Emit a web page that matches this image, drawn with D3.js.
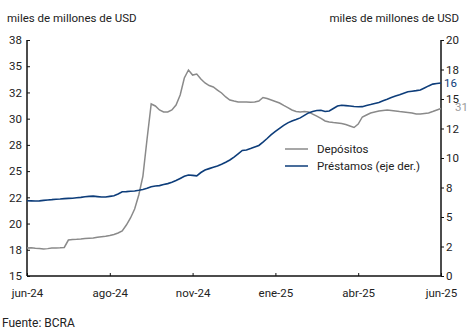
<!DOCTYPE html>
<html><head><meta charset="utf-8">
<script src="https://cdn.jsdelivr.net/npm/d3@7/dist/d3.min.js"></script>
<style>body{margin:0;background:#fff}svg{display:block;font-family:Roboto,"Noto Sans",sans-serif}</style>
</head><body><svg id="c" width="470" height="334"></svg>
<script>
const xTickIdx = [0,20,40,60,80,100];
const xTickLabels = ["jun-24","ago-24","nov-24","ene-25","abr-25","jun-25"];
const leftTicks = [15,17.5,20,22.5,25,27.5,30,32.5,35,37.5];
const leftTickLabels = ["15","18","20","22","25","28","30","32","35","38"];
const rightTicks = [0,2.5,5,7.5,10,12.5,15,17.5,20];
const rightTickLabels = ["0","2","5","8","10","12","15","18","20"];
const depositos = [17.67,17.7,17.64,17.62,17.57,17.61,17.67,17.67,17.69,17.72,
18.43,18.48,18.5,18.53,18.57,18.6,18.62,18.69,18.74,18.79,
18.86,18.96,19.1,19.29,19.86,20.53,21.39,22.72,24.53,28.06,
31.4,31.21,30.83,30.64,30.64,30.83,31.3,32.26,33.88,34.64,
34.16,34.26,33.78,33.4,33.16,33.02,32.73,32.45,32.07,31.78,
31.68,31.59,31.59,31.59,31.56,31.59,31.68,32.02,31.92,31.78,
31.64,31.49,31.26,31.06,30.83,30.68,30.64,30.68,30.64,30.44,
30.25,30.02,29.78,29.68,29.63,29.59,29.54,29.44,29.3,29.16,
29.49,30.16,30.35,30.54,30.64,30.73,30.78,30.83,30.78,30.73,
30.68,30.64,30.59,30.54,30.44,30.44,30.49,30.54,30.68,30.83,30.97];
const prestamos = [6.38,6.37,6.36,6.37,6.41,6.44,6.47,6.51,6.53,6.56,
6.58,6.59,6.63,6.66,6.71,6.75,6.77,6.73,6.69,6.69,
6.75,6.8,6.95,7.14,7.15,7.18,7.2,7.26,7.33,7.43,
7.57,7.63,7.66,7.75,7.83,7.94,8.09,8.27,8.45,8.56,
8.53,8.49,8.77,8.98,9.1,9.22,9.33,9.47,9.64,9.83,
10.08,10.36,10.64,10.68,10.8,10.93,11.06,11.34,11.65,11.98,
12.25,12.51,12.76,12.98,13.13,13.26,13.4,13.61,13.82,13.94,
14.02,14.04,13.94,13.98,14.19,14.41,14.47,14.44,14.41,14.37,
14.34,14.35,14.45,14.53,14.62,14.71,14.85,14.98,15.12,15.25,
15.36,15.49,15.61,15.66,15.71,15.77,15.94,16.11,16.26,16.31,16.36];
const seriesNames = ["Depósitos","Préstamos (eje der.)"];
const colors = {dep:"#8a8a8a", pre:"#0d3d7a"};

const svg = d3.select("#c");
const L = 27, R = 441, T = 40, B = 276;
const x = d3.scaleLinear().domain([0, depositos.length-1]).range([L, R]);
const yL = d3.scaleLinear().domain([15, 37.5]).range([B, T]);
const yR = d3.scaleLinear().domain([0, 20]).range([B, T]);
const fs = "11.5px";

// titles
svg.append("text").attr("x",7).attr("y",22).attr("font-size",fs).attr("fill","#222").text("miles de millones de USD");
svg.append("text").attr("x",459).attr("y",22).attr("text-anchor","end").attr("font-size",fs).attr("fill","#222").text("miles de millones de USD");

// axes
const axL = svg.append("g").attr("transform",`translate(${L},0)`)
  .call(d3.axisRight(yL).tickValues(leftTicks).tickSize(3).tickFormat((d,i)=>leftTickLabels[i]));
axL.selectAll("text").attr("x",-5).attr("text-anchor","end");
const axR = svg.append("g").attr("transform",`translate(${R},0)`)
  .call(d3.axisRight(yR).tickValues(rightTicks).tickSize(3).tickFormat((d,i)=>rightTickLabels[i]));
axR.selectAll("text").attr("x",5);
const axB = svg.append("g").attr("transform",`translate(0,${B})`)
  .call(d3.axisTop(x).tickValues(xTickIdx).tickSize(3).tickFormat((d,i)=>xTickLabels[i]));
axB.selectAll("text").attr("y",13).attr("dy","0.71em");
[axL,axR,axB].forEach(a=>{
  a.select(".domain").attr("stroke","#111").attr("stroke-width",1.5);
  a.selectAll(".tick line").attr("stroke","#111");
  a.selectAll("text").attr("font-size",fs).attr("fill","#222").attr("font-family","Roboto,sans-serif");
});
axL.select(".domain").attr("d",`M0,${T}V${B}`);
axR.select(".domain").attr("d",`M0,${T}V${B}`);
axB.select(".domain").attr("d",`M${L},0H${R}`);

// lines
svg.append("path").datum(depositos).attr("fill","none").attr("stroke",colors.dep).attr("stroke-width",1.5)
  .attr("d",d3.line().x((d,i)=>x(i)).y(d=>yL(d)));
svg.append("path").datum(prestamos).attr("fill","none").attr("stroke",colors.pre).attr("stroke-width",1.6)
  .attr("d",d3.line().x((d,i)=>x(i)).y(d=>yR(d)));

// end labels
const n = depositos.length-1;
svg.append("text").attr("x",R+3).attr("y",yR(prestamos[n])).attr("dy","0.35em").attr("font-size",fs).attr("fill",colors.pre).text(Math.round(prestamos[n]));
svg.append("text").attr("x",R+14).attr("y",yL(depositos[n])-2).attr("dy","0.35em").attr("font-size",fs).attr("fill","#9a9a9a").text(Math.round(depositos[n]));

// legend
const lg = svg.append("g").attr("transform","translate(285,149)");
[["dep",0],["pre",17]].forEach(([k,dy],i)=>{
  lg.append("line").attr("x1",0).attr("x2",23).attr("y1",dy).attr("y2",dy).attr("stroke",colors[k]).attr("stroke-width",1.5);
  lg.append("text").attr("x",32).attr("y",dy).attr("dy","0.35em").attr("font-size",fs).attr("fill","#222").text(seriesNames[i]);
});

svg.append("text").attr("x",2).attr("y",327).attr("font-size","12px").attr("fill","#222").text("Fuente: BCRA");
</script></body></html>
